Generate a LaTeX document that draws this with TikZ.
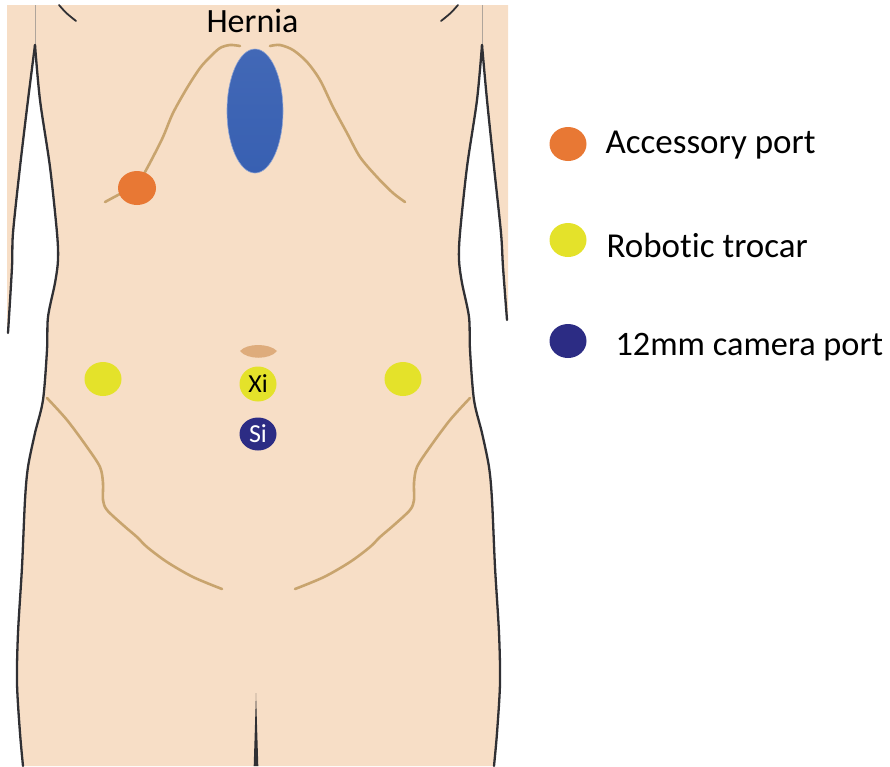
\documentclass[tikz,border=0pt]{standalone}
\usepackage{fontspec}
\setmainfont{Carlito}[RawFeature=-liga, RawFeature=-calt, RawFeature=-dlig, RawFeature=-clig]
\usetikzlibrary{shapes.geometric}
\definecolor{skin}{RGB}{247,222,198}
\definecolor{outline}{RGB}{48,48,52}
\definecolor{faintline}{RGB}{175,165,155}
\definecolor{crease}{RGB}{200,164,110}
\definecolor{portorange}{RGB}{232,120,52}
\definecolor{portyellow}{RGB}{228,226,42}
\definecolor{portnavy}{RGB}{44,44,132}
\definecolor{herniablue}{RGB}{56,96,178}
\definecolor{herniatop}{RGB}{66,104,182}
\definecolor{navel}{RGB}{222,172,124}
\begin{document}
\begin{tikzpicture}[x=1pt,y=-1pt,
  bodyline/.style={draw=outline,line width=2.3pt,line cap=round,line join=round},
  creaseline/.style={draw=crease,line width=2.6pt,line cap=round,line join=round},
  port/.style={ellipse,inner sep=0pt,minimum width=37pt,minimum height=34pt},
  legendtext/.style={anchor=base west,font=\fontsize{35}{40}\selectfont,text=black},
  portlabel/.style={font=\fontsize{26}{28}\selectfont}]
\useasboundingbox (0,0) rectangle (890,766);

% skin of torso and both arms
\fill[skin] (7,5) -- (508,5) -- (508,320)
  -- plot[smooth] coordinates {(507,320) (503,267) (501,233) (494,167) (487,100) (482,45)}
  -- plot[smooth] coordinates {(482,45) (477,100) (467,167) (460,233) (459,260) (462,283) (469,317) (470,350) (474,400) (482,433) (489,467) (492,500) (495,567) (499,633) (500,683) (497,733) (494,766)}
  -- (23,766)
  -- plot[smooth] coordinates {(23,766) (20,733) (17,683) (18,633) (22,567) (25,500) (28,467) (35,433) (43,400) (47,350) (48,317) (55,283) (58,260) (57,233) (50,167) (40,100) (35,45)}
  -- plot[smooth] coordinates {(35,45) (28,100) (20,167) (13,233) (12,267) (8,333)}
  -- (7,333) -- cycle;

% faint seams between arms and torso
\draw[faintline,line width=1pt] (35,5) -- (35,45);
\draw[faintline,line width=1pt] (482,5) -- (482,45);

% arm edges
\draw[bodyline] plot[smooth] coordinates {(35,45) (28,100) (20,167) (13,233) (12,267) (8,333)};
\draw[bodyline] plot[smooth] coordinates {(482,45) (487,100) (494,167) (501,233) (503,267) (507,320)};

% torso edges
\draw[bodyline] plot[smooth] coordinates {(35,45) (40,100) (50,167) (57,233) (58,260) (55,283) (48,317) (47,350) (43,400) (35,433) (28,467) (25,500) (22,567) (18,633) (17,683) (20,733) (23,766)};
\draw[bodyline] plot[smooth] coordinates {(482,45) (477,100) (467,167) (460,233) (459,260) (462,283) (469,317) (470,350) (474,400) (482,433) (489,467) (492,500) (495,567) (499,633) (500,683) (497,733) (494,766)};

% neck lines
\draw[bodyline,line width=1.8pt] (59,5) .. controls (66,13) .. (76,21);
\draw[bodyline,line width=1.8pt] (458,5) .. controls (451,13) .. (441,21);

% groin cleft
\fill[outline] (256,693) -- (258.3,766) -- (253.7,766) -- cycle;

% costal margins
\draw[creaseline] plot[smooth] coordinates {(240,46) (230,45) (220,48) (210,57) (200,68) (187,88) (173,113) (163,137) (153,157) (145,172) (137,186) (120,194) (105,202)};
\draw[creaseline] plot[smooth] coordinates {(270,46) (280,45) (293,50) (307,62) (320,80) (333,107) (347,133) (360,157) (377,177) (393,193) (405,202)};

% iliac / inguinal lines
\draw[creaseline] plot[smooth] coordinates {(47,398) (67,420) (87,447) (100,467) (103,483) (103,500) (107,510) (123,525) (137,537) (147,547) (167,562) (193,577) (222,589)};
\draw[creaseline] plot[smooth] coordinates {(470,398) (450,420) (430,447) (417,467) (414,483) (414,500) (410,510) (394,525) (380,537) (370,547) (350,562) (324,577) (295,589)};

% navel
\fill[navel] (240,351) .. controls (247,343) and (269,343) .. (277,351)
  .. controls (270,360) and (247,360) .. cycle;

% hernia
\node[ellipse,inner sep=0pt,minimum width=56pt,minimum height=124pt,
  top color=herniatop,bottom color=herniablue,draw=herniatop!60!white,line width=0.6pt] (hernia) at (255,111) {};
\node[anchor=base,font=\fontsize{34}{40}\selectfont] (herniatext) at (252.5,32) {Hernia};

% ports
\node[port,fill=portorange,minimum width=38pt] (acc) at (137,188) {};
\node[port,fill=portyellow] (robL) at (103,379) {};
\node[port,fill=portyellow] (robR) at (403,379) {};
\node[port,fill=portyellow,minimum height=35pt,portlabel] (xi) at (258,384) {Xi};
\node[port,fill=portnavy,minimum height=33pt,portlabel,text=white] (si) at (258,434) {Si};

% legend
\node[port,fill=portorange] (legacc) at (568,144) {};
\node[legendtext] (legacctext) at (602,153) {Accessory port};
\node[port,fill=portyellow] (legrob) at (568,240) {};
\node[legendtext] (legrobtext) at (603,257) {Robot\kern0pt ic trocar};
\node[port,fill=portnavy] (legcam) at (568,341) {};
\node[legendtext,font=\fontsize{34.3}{40}\selectfont] (legcamtext) at (612,355) {12mm camera port};
\end{tikzpicture}
\end{document}
